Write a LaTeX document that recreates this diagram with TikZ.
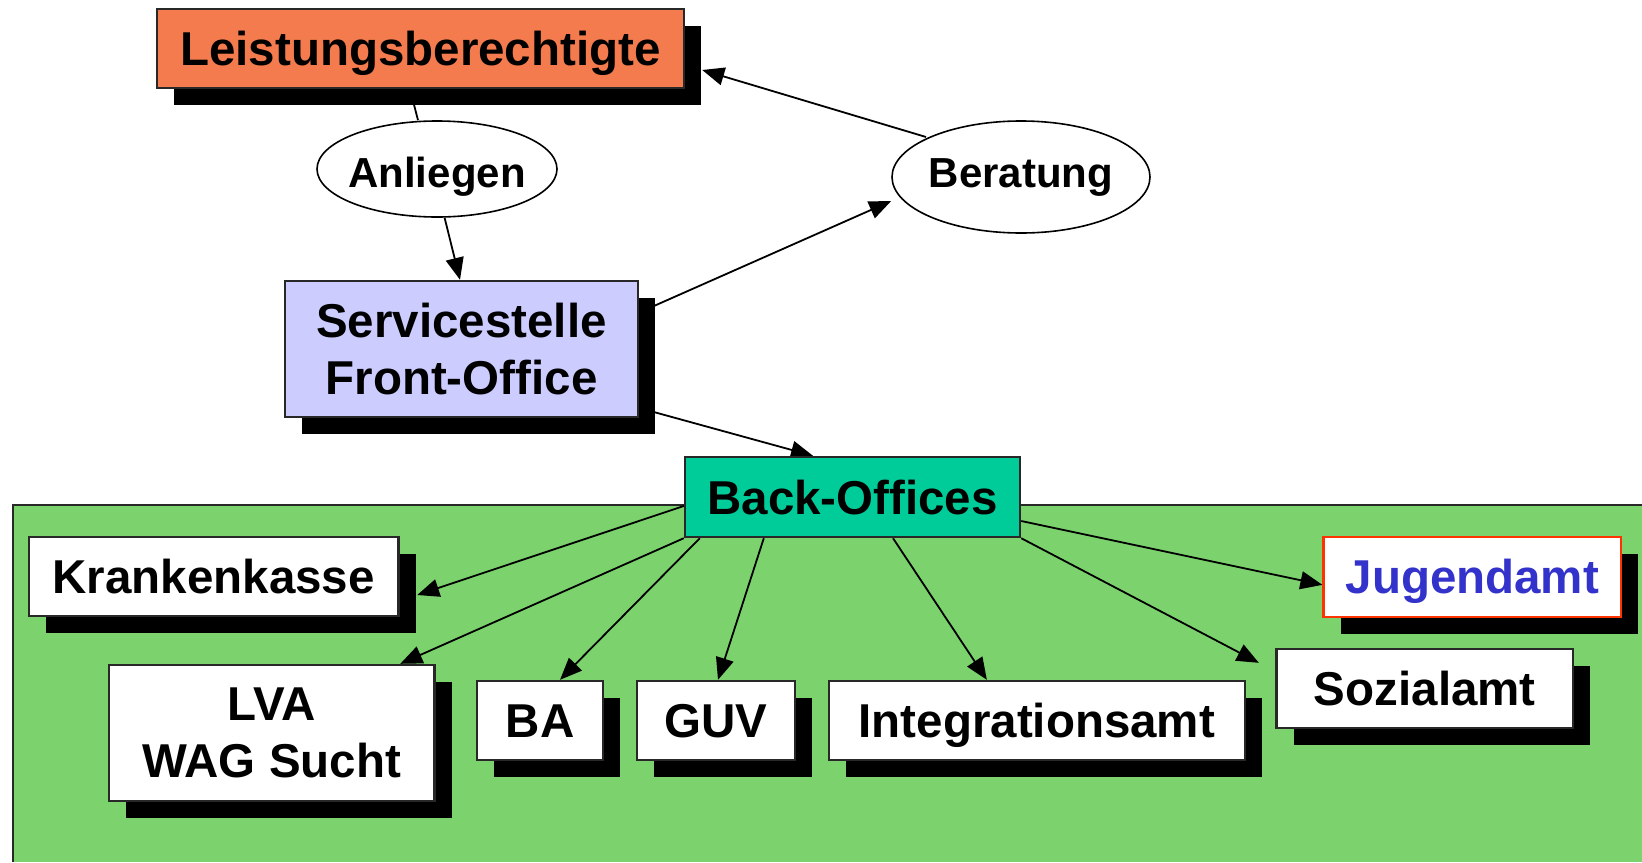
\documentclass[tikz,border=0pt]{standalone}
\usepackage{fontspec}
\setmainfont{Liberation Sans}
\usetikzlibrary{arrows.meta,shapes.geometric,shadows,calc}
\definecolor{orangefill}{RGB}{244,123,77}
\definecolor{lavfill}{RGB}{204,204,255}
\definecolor{tealfill}{RGB}{0,204,153}
\definecolor{greenfill}{RGB}{124,211,110}
\definecolor{boxline}{RGB}{40,40,40}
\definecolor{jugline}{RGB}{255,51,0}
\definecolor{jugtext}{RGB}{51,51,204}
\pgfdeclarelayer{bg}
\pgfdeclarelayer{conn}
\pgfsetlayers{bg,conn,main}
\newcommand{\bigfnt}{\fontsize{23.75}{28.25}\selectfont\bfseries}
\newcommand{\ellfnt}{\fontsize{21}{25}\selectfont\bfseries}
\tikzset{
  box/.style={draw=boxline, line width=1.2pt, inner sep=0pt, font=\bigfnt, align=center},
  oneline/.style={text height=17.1pt, text depth=0pt},
  shad/.style={drop shadow={shadow xshift=8.5pt, shadow yshift=-8.5pt, opacity=1, fill=black}},
  oval/.style={ellipse, draw=black, line width=0.8pt, fill=white, inner xsep=-2pt, inner ysep=0pt, font=\ellfnt},
  arr/.style={-{Triangle[length=11pt,width=9pt]}, line width=0.9pt, draw=black},
  plainline/.style={line width=0.9pt, draw=black}
}
\begin{document}
\begin{tikzpicture}[x=0.5pt,y=-0.5pt]
\useasboundingbox (0,0) rectangle (1642,862);
\begin{pgfonlayer}{bg}
  \fill[white] (0,0) rectangle (1642,862);
  \fill[greenfill] (13,505) rectangle (1642,862);
  \draw[boxline, line width=1pt] (13,862) -- (13,505) -- (1642,505);
\end{pgfonlayer}

\node[box, oneline, shad, fill=orangefill, minimum width=263.5pt, minimum height=39.5pt] (leist) at (420.5,48.5) {Leistungsberechtigte};
\node[oval, text height=18.1pt, text depth=0pt, minimum width=120pt, minimum height=48pt] (anl) at (437,169) {Anliegen};
\node[oval, text height=15.1pt, text depth=5pt, minimum width=129pt, minimum height=56pt] (ber) at (1021,177) {Beratung};
\node[box, shad, fill=lavfill, minimum width=176.5pt, minimum height=68pt] (serv) at (461.5,349) {Servicestelle\\Front-Office};
\node[box, oneline, fill=tealfill, minimum width=167.5pt, minimum height=40pt] (back) at (852.5,497) {Back-Offices};
\node[box, oneline, shad, fill=white, minimum width=184.75pt, minimum height=39.5pt] (kk) at (213.75,576.5) {Krankenkasse};
\node[box, shad, fill=white, minimum width=162.75pt, minimum height=68pt] (lva) at (271.75,733) {LVA\\WAG Sucht};
\node[box, oneline, shad, fill=white, minimum width=63pt, minimum height=39.5pt] (ba) at (540,720.5) {BA};
\node[box, oneline, shad, fill=white, minimum width=79pt, minimum height=39.5pt] (guv) at (716,720.5) {GUV};
\node[box, oneline, shad, fill=white, minimum width=207.85pt, minimum height=39.5pt] (integ) at (1036.85,720.5) {Integrationsamt};
\node[box, oneline, shad, fill=white, draw=jugline, text=jugtext, minimum width=148.7pt, minimum height=39.85pt] (jug) at (1472.3,576.85) {Jugendamt};
\node[box, oneline, shad, fill=white, minimum width=148.2pt, minimum height=39.5pt] (soz) at (1424.8,688.2) {Sozialamt};

\begin{pgfonlayer}{conn}
  \draw[plainline] ($(leist.south)+(-10.5,0)$) -- ($(anl.north)+(-19,0)$);
  \draw[arr] ($(anl.south)+(7.6,0)$) -- ($(serv.north)+(-1.5,0)$);
  \draw[arr] ($(serv.east)+(0,-36.5)$) -- ($(ber.west)+(0,24)$);
  \draw[arr] ($(ber.center)+(-95,-40)$) -- ($(leist.east)+(17,21.5)$);
  \draw[arr] ($(serv.east)+(0,59)$) -- ($(back.north)+(-39.5,0)$);
  \draw[arr] ($(back.west)+(0,9)$) -- ($(kk.east)+(17.5,18.5)$);
  \draw[arr] (back.south west) -- ($(lva.north)+(128.5,0)$);
  \draw[arr] ($(back.south west)+(16,0)$) -- ($(ba.north)+(20,0)$);
  \draw[arr] ($(back.south west)+(80,0)$) -- ($(guv.north)+(2,0)$);
  \draw[arr] ($(back.south)+(40.5,0)$) -- ($(integ.north)+(-50,0)$);
  \draw[arr] (back.south east) -- ($(soz.north west)+(-16.6,15.3)$);
  \draw[arr] ($(back.east)+(0,24)$) -- ($(jug.west)+(0,8)$);
\end{pgfonlayer}
\end{tikzpicture}
\end{document}
